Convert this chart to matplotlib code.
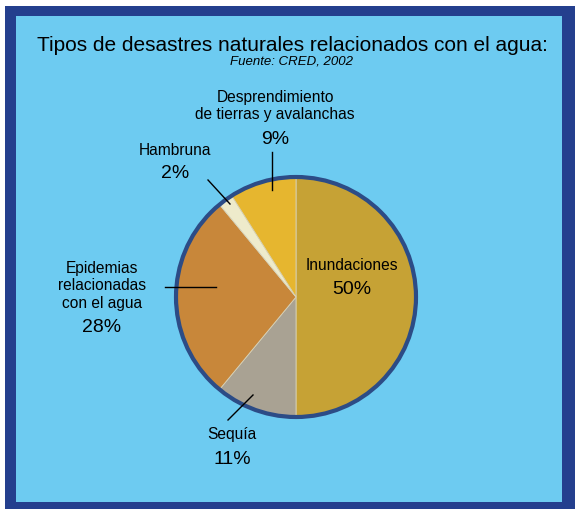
import matplotlib.pyplot as plt
from matplotlib.patches import Rectangle, Circle

plt.rcParams['font.family'] = ['Liberation Sans', 'DejaVu Sans']

labels = ['Inundaciones', 'Sequía', 'Epidemias\nrelacionadas\ncon el agua', 'Hambruna',
          'Desprendimiento\nde tierras y avalanchas']
values = [50, 11, 28, 2, 9]
colors = ['#C6A235', '#A9A293', '#C8873A', '#EEEBCB', '#E6B62F']

W, H = 575, 509


def py(y):
    # pixel row -> data y
    return H - y


fig = plt.figure(figsize=(5.75, 5.09), dpi=100)
ax = fig.add_axes([0, 0, 1, 1])
ax.set_xlim(0, W)
ax.set_ylim(0, H)
ax.set_aspect('equal')
ax.axis('off')

ax.add_patch(Rectangle((5, 0), W - 5, py(6), facecolor='#243F8E', edgecolor='none'))
ax.add_patch(Rectangle((16, py(502)), 562 - 16, 502 - 16, facecolor='#6DCBF1', edgecolor='none'))

cx, cy, r = 296, py(297), 120
ax.pie(values, colors=colors, startangle=90, counterclock=False,
       center=(cx, cy), radius=r, frame=True,
       wedgeprops=dict(edgecolor='#D8D2B8', linewidth=0.6))
ax.set_xlim(0, W)
ax.set_ylim(0, H)
ax.axis('off')
ax.add_patch(Circle((cx, cy), r, facecolor='none', edgecolor='#2C4C86', linewidth=3))

ax.text(292, py(45), 'Tipos de desastres naturales relacionados con el agua:',
        ha='center', va='center', fontsize=15)
ax.text(292, py(61), 'Fuente: CRED, 2002', ha='center', va='center',
        fontsize=9.5, style='italic')

# label text positions (label, percent)
label_pos = [(352, 266, 290), (232, 435, 459), (102, 286, 328), (175, 150, 173), (275, 106, 139)]
for lab, v, (x, yl, yp) in zip(labels, values, label_pos):
    ax.text(x, py(yl), lab, ha='center', va='center', fontsize=11.2, linespacing=1.2)
    ax.text(x, py(yp), '%d%%' % v, ha='center', va='center', fontsize=14)

leaders = [((228, 420), (253, 395)), ((165, 287), (216, 287)),
           ((208, 180), (230, 204)), ((272, 152), (272, 190))]
for (x0, y0), (x1, y1) in leaders:
    ax.plot([x0, x1], [py(y0), py(y1)], color='black', linewidth=1)

plt.savefig('out.png', dpi=100)
